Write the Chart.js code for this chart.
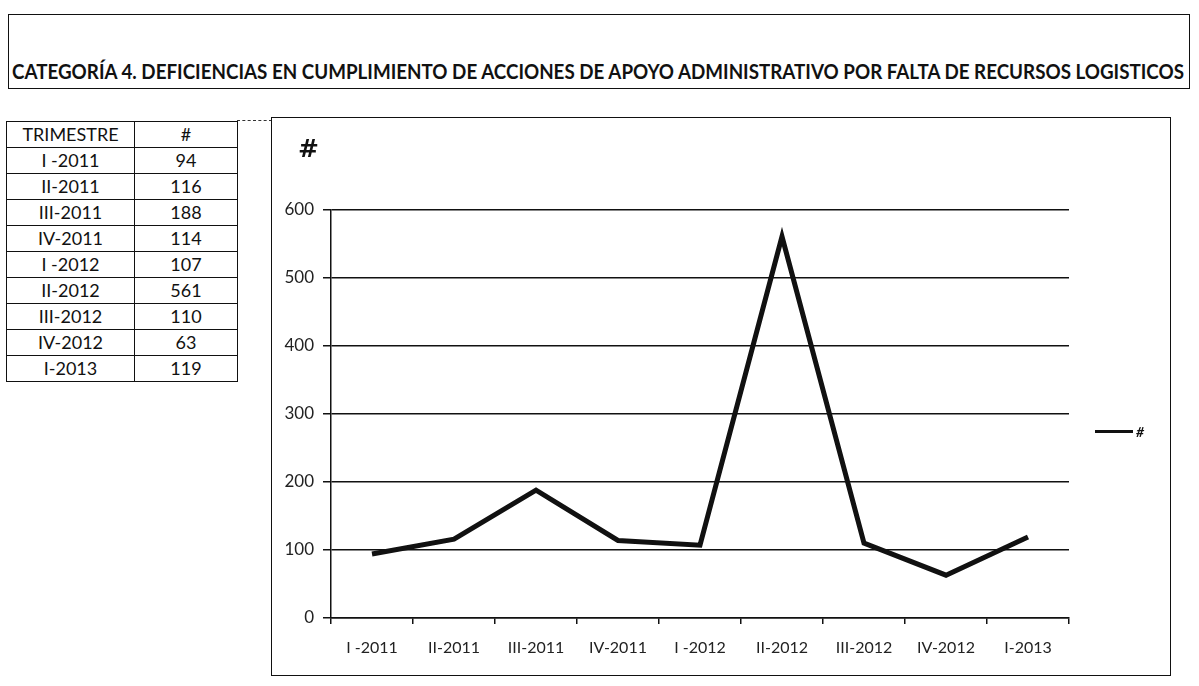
<!DOCTYPE html>
<html>
<head>
<meta charset="utf-8">
<script src="https://cdn.jsdelivr.net/npm/chart.js@4/dist/chart.umd.min.js"></script>
<style>
  html, body { margin: 0; padding: 0; background: #fff; }
  body { width: 1199px; height: 686px; position: relative; overflow: hidden; font-family: Lato, "Open Sans", sans-serif; color: #111; }
  #titleBox { position: absolute; left: 8px; top: 14px; width: 1180px; height: 73px; border: 1.5px solid #111; }
  #titleText { position: absolute; left: 3px; top: 44px; font-weight: bold; font-size: 20px; line-height: 24px; white-space: nowrap; transform-origin: left top; }
  #table { position: absolute; left: 6px; top: 121px; border-collapse: collapse; font-size: 18px; }
  #table td { border: 1.5px solid #111; text-align: center; height: 25px; padding: 0; line-height: 25px; }
  #table td.c1 { width: 127px; }
  #table td.c2 { width: 102px; }
  #frame { position: absolute; left: 271px; top: 117px; width: 898px; height: 557px; border: 1.5px solid #111; }
  #chart { position: absolute; left: 0; top: 0; }
  #yTitle { position: absolute; left: 26px; top: 16px; font-weight: bold; font-size: 25px; font-family: "DejaVu Serif", serif; }
  #legend { position: absolute; left: 823px; top: 305px; display: flex; align-items: center; font-size: 14px; font-style: italic; font-weight: bold; }
  #legend .swatch { width: 38px; height: 3px; background: #111; margin-right: 3px; }
  #joiner { position: absolute; left: 237px; top: 120px; width: 35px; height: 0; border-top: 1px dashed #333; }
</style>
</head>
<body>
<div id="titleBox"><span id="titleText">CATEGORÍA 4. DEFICIENCIAS EN CUMPLIMIENTO DE ACCIONES DE APOYO ADMINISTRATIVO POR FALTA DE RECURSOS LOGISTICOS</span></div>
<table id="table"></table>
<div id="joiner"></div>
<div id="frame">
  <canvas id="chart" width="898" height="557"></canvas>
  <div id="yTitle">#</div>
  <div id="legend"><span class="swatch"></span><span>#</span></div>
</div>
<script>
// Quarterly counts
const quarters = ["I -2011", "II-2011", "III-2011", "IV-2011", "I -2012", "II-2012", "III-2012", "IV-2012", "I-2013"];
const counts = [94, 116, 188, 114, 107, 561, 110, 63, 119];
const yTicks = [0, 100, 200, 300, 400, 500, 600];
const tableHeader = ["TRIMESTRE", "#"];
const seriesName = "#";

// Title stretched to the width of its box
const t = document.getElementById('titleText');
const targetW = 1172;
t.style.transform = 'scaleX(' + (targetW / t.getBoundingClientRect().width) + ')';

// Data table
const table = document.getElementById('table');
let html = '<tr><td class="c1">' + tableHeader[0] + '</td><td class="c2">' + tableHeader[1] + '</td></tr>';
quarters.forEach((q, i) => {
  html += '<tr><td class="c1">' + q + '</td><td class="c2">' + counts[i] + '</td></tr>';
});
table.innerHTML = html;

const ink = '#111';
new Chart(document.getElementById('chart'), {
  type: 'line',
  data: {
    labels: quarters,
    datasets: [{
      label: seriesName,
      data: counts,
      borderColor: ink,
      borderWidth: 5,
      pointRadius: 0,
      tension: 0,
      fill: false
    }]
  },
  options: {
    responsive: false,
    animation: false,
    devicePixelRatio: 1,
    layout: { padding: { left: 9, top: 92, right: 101, bottom: 17 } },
    plugins: { legend: { display: false }, tooltip: { enabled: false } },
    scales: {
      x: {
        offset: true,
        afterFit: s => { s.height = 40; },
        grid: { offset: true, drawOnChartArea: false, color: ink, lineWidth: 1.5, tickLength: 6 },
        border: { color: ink, width: 1.5 },
        ticks: { color: '#222', font: { family: 'Lato', size: 16 }, padding: 14, maxRotation: 0, autoSkip: false }
      },
      y: {
        min: 0, max: 600,
        afterFit: s => { s.width = 50; },
        afterBuildTicks: s => { s.ticks = yTicks.map(v => ({ value: v })); },
        grid: { color: ink, lineWidth: 1.5, tickLength: 8 },
        border: { color: ink, width: 1.5 },
        ticks: { color: '#222', font: { family: 'Lato', size: 17 }, padding: 9 }
      }
    }
  }
});
</script>
</body>
</html>
